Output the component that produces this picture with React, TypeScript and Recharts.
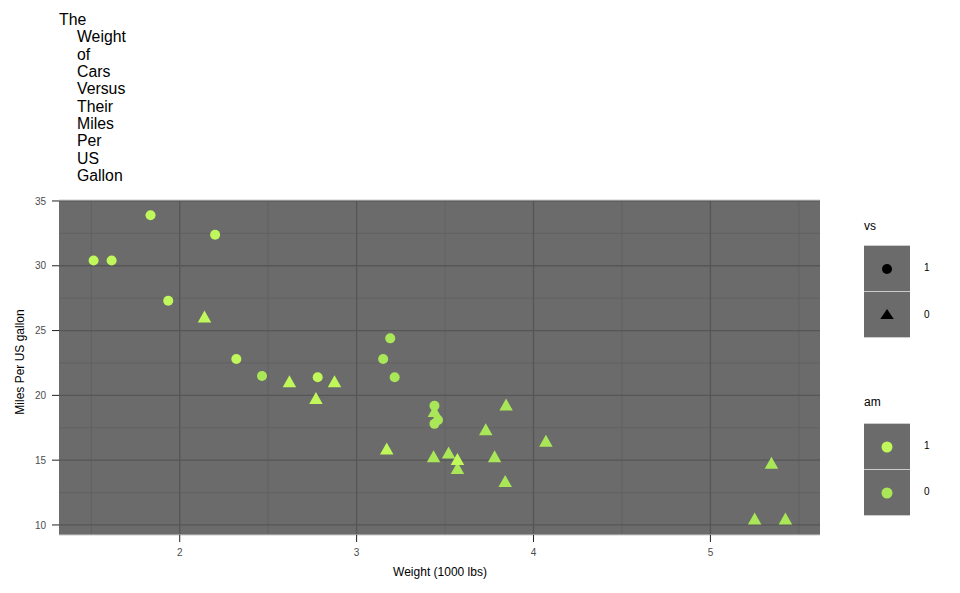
import React from 'react';
import { ScatterChart, Scatter, XAxis, YAxis, ReferenceLine, ReferenceArea } from 'recharts';

const wt = [2.62, 2.875, 2.32, 3.215, 3.44, 3.46, 3.57, 3.19, 3.15, 3.44, 3.44, 4.07, 3.73, 3.78, 5.25, 5.424, 5.345, 2.2, 1.615, 1.835, 2.465, 3.52, 3.435, 3.84, 3.845, 1.935, 2.14, 1.513, 3.17, 2.77, 3.57, 2.78];
const mpg = [21.0, 21.0, 22.8, 21.4, 18.7, 18.1, 14.3, 24.4, 22.8, 19.2, 17.8, 16.4, 17.3, 15.2, 10.4, 10.4, 14.7, 32.4, 30.4, 33.9, 21.5, 15.5, 15.2, 13.3, 19.2, 27.3, 26.0, 30.4, 15.8, 19.7, 15.0, 21.4];
const vs = [0, 0, 1, 1, 0, 1, 0, 1, 1, 1, 1, 0, 0, 0, 0, 0, 0, 1, 1, 1, 1, 0, 0, 0, 0, 1, 0, 1, 0, 0, 0, 1];
const am = [1, 1, 1, 0, 0, 0, 0, 0, 0, 0, 0, 0, 0, 0, 0, 0, 0, 1, 1, 1, 0, 0, 0, 0, 0, 1, 1, 1, 1, 1, 1, 1];

const xTicks = [2, 3, 4, 5];
const xMinor = [1.5, 2.5, 3.5, 4.5, 5.5];
const yTicks = [10, 15, 20, 25, 30, 35];
const yMinor = [12.5, 17.5, 22.5, 27.5, 32.5];
const xDomain = [1.3175, 5.6195];
const yDomain = [9.225, 35.075];
const titleWords = ['The', 'Weight', 'of', 'Cars', 'Versus', 'Their', 'Miles', 'Per', 'US', 'Gallon'];
const legendLevels = ['1', '0'];

const colorAm1 = '#C0F85C';
const colorAm0 = '#AAE758';
const panelFill = '#6B6B6B';
const font = '"Liberation Sans", Arial, Helvetica, sans-serif';

const data = wt.map((w, i) => ({ wt: w, mpg: mpg[i], vs: vs[i], am: am[i] }));

const PointShape = (props: any) => {
  const { cx, cy, payload } = props;
  const fill = payload.am === 1 ? colorAm1 : colorAm0;
  if (payload.vs === 1) {
    return <circle cx={cx} cy={cy} r={5} fill={fill} />;
  }
  const h = 12;
  const w = 13.5;
  return (
    <polygon
      points={`${cx},${cy - h * 0.6} ${cx - w / 2},${cy + h * 0.4} ${cx + w / 2},${cy + h * 0.4}`}
      fill={fill}
    />
  );
};

const abs = (style: React.CSSProperties): React.CSSProperties => ({ position: 'absolute', ...style });

export default function App() {
  return (
    <div style={{ position: 'absolute', left: 0, top: 0, width: 960, height: 593, background: '#fff', fontFamily: font }}>
      {titleWords.map((wd, i) => (
        <div
          key={wd + i}
          style={abs({ left: i === 0 ? 59 : 77, top: 11 + i * 17.35, fontSize: 15.8, lineHeight: '18px', color: '#000' })}
        >
          {wd}
        </div>
      ))}
      <ScatterChart width={960} height={593} margin={{ top: 200, right: 140, bottom: 28, left: 19 }}>
        <XAxis
          type="number"
          dataKey="wt"
          domain={xDomain}
          ticks={xTicks}
          allowDataOverflow
          axisLine={false}
          tickLine={{ stroke: '#222', strokeWidth: 1 }}
          tickSize={7}
          tickMargin={7}
          height={30}
          tick={{ fill: '#4d4d4d', fontSize: 10, fontFamily: font }}
        />
        <YAxis
          type="number"
          dataKey="mpg"
          domain={yDomain}
          ticks={yTicks}
          allowDataOverflow
          axisLine={false}
          tickLine={{ stroke: '#222', strokeWidth: 1 }}
          tickSize={7}
          tickMargin={6}
          width={40}
          tick={{ fill: '#4d4d4d', fontSize: 10, fontFamily: font }}
        />
        <ReferenceArea x1={xDomain[0]} x2={xDomain[1]} y1={yDomain[0]} y2={yDomain[1]} fill={panelFill} fillOpacity={1} stroke="none" />
        {xMinor.map((v) => (
          <ReferenceLine key={'xm' + v} x={v} stroke="#606060" strokeWidth={0.8} />
        ))}
        {yMinor.map((v) => (
          <ReferenceLine key={'ym' + v} y={v} stroke="#606060" strokeWidth={0.8} />
        ))}
        {xTicks.map((v) => (
          <ReferenceLine key={'xM' + v} x={v} stroke="#565656" strokeWidth={1.3} />
        ))}
        {yTicks.map((v) => (
          <ReferenceLine key={'yM' + v} y={v} stroke="#565656" strokeWidth={1.3} />
        ))}
        <ReferenceLine y={yDomain[1]} stroke="#cccccc" strokeWidth={1.2} />
        <ReferenceLine y={yDomain[0]} stroke="#cccccc" strokeWidth={1.2} />
        <Scatter data={data} shape={PointShape} isAnimationActive={false} />
      </ScatterChart>

      <div style={abs({ left: 340, top: 565, width: 200, textAlign: 'center', fontSize: 12, color: '#000' })}>Weight (1000 lbs)</div>
      <div
        style={abs({ left: 20 - 100, top: 362 - 8, width: 200, textAlign: 'center', fontSize: 12, lineHeight: '16px', color: '#000', transform: 'rotate(-90deg)' })}
      >
        Miles Per US gallon
      </div>

      {/* vs legend */}
      <div style={abs({ left: 864, top: 219, fontSize: 12, color: '#000' })}>vs</div>
      <div style={abs({ left: 864, top: 245, width: 46, height: 93, background: panelFill, borderTop: '1px solid #ccc', borderBottom: '1px solid #ccc', boxSizing: 'border-box' })}>
        <div style={abs({ left: 0, top: 45, width: 46, height: 1, background: '#ccc' })} />
        <svg width={46} height={93} style={{ position: 'absolute', left: 0, top: 0 }}>
          <circle cx={23} cy={23} r={5} fill="#000" />
          <polygon points="23,63 16.25,73 29.75,73" fill="#000" />
        </svg>
      </div>
      {legendLevels.map((l, i) => (
        <div key={'vsl' + l} style={abs({ left: 924, top: 262 + i * 47, fontSize: 10, color: '#000' })}>{l}</div>
      ))}

      {/* am legend */}
      <div style={abs({ left: 864, top: 395, fontSize: 12, color: '#000' })}>am</div>
      <div style={abs({ left: 864, top: 423, width: 46, height: 93, background: panelFill, borderTop: '1px solid #ccc', borderBottom: '1px solid #ccc', boxSizing: 'border-box' })}>
        <div style={abs({ left: 0, top: 45, width: 46, height: 1, background: '#ccc' })} />
        <svg width={46} height={93} style={{ position: 'absolute', left: 0, top: 0 }}>
          <circle cx={23} cy={23} r={5.5} fill={colorAm1} />
          <circle cx={23} cy={69} r={5.5} fill={colorAm0} />
        </svg>
      </div>
      {legendLevels.map((l, i) => (
        <div key={'aml' + l} style={abs({ left: 924, top: 440 + i * 46, fontSize: 10, color: '#000' })}>{l}</div>
      ))}
    </div>
  );
}
